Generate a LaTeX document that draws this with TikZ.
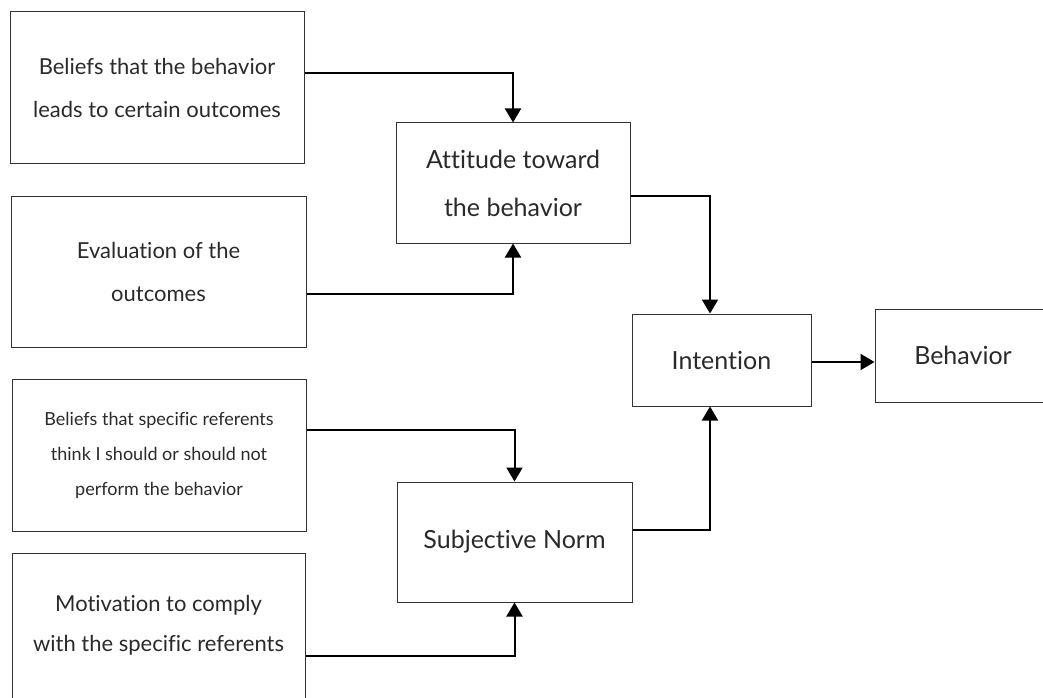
\documentclass[tikz,border=0pt]{standalone}
\usepackage{fontspec}
\setmainfont{Lato}[Ligatures=NoCommon]
\usetikzlibrary{arrows.meta}
\definecolor{boxgray}{HTML}{333333}
\definecolor{textgray}{HTML}{2A2A2A}
\begin{document}
\begin{tikzpicture}[x=1pt,y=-1pt,
  box/.style={draw=boxgray, line width=1pt, align=center, inner sep=0pt, text=textgray},
  big/.style={font=\fontsize{22}{43}\selectfont},
  small/.style={font=\fontsize{18}{35}\selectfont},
  core/.style={font=\fontsize{25}{48}\selectfont},
  link/.style={line width=2pt, -{Triangle[length=14pt,width=16pt]}},
]
\useasboundingbox (0,0) rectangle (1043,698);
\clip (0,0) rectangle (1043,698);

% belief and evaluation inputs
\node[box, big, minimum width=294pt, minimum height=151pt] (b1) at (157,87.5)
  {Beliefs that the behavior\\leads to certain outcomes};
\node[box, big, minimum width=295pt, minimum height=151pt] (b2) at (158.5,271.5)
  {Evaluation of the\\outcomes};
\node[box, small, minimum width=294pt, minimum height=152pt] (b3) at (159,455)
  {Beliefs that specific referents\\think I should or should not\\perform the behavior};
\node[box, font=\fontsize{22}{40}\selectfont, minimum width=293pt, minimum height=180pt] (b4) at (158.5,643)
  {Motivation to comply\\with the specific referents\\\mbox{}};

% constructs
\node[box, core, minimum width=234pt, minimum height=120pt] (att) at (513,183)
  {Attitude toward\\the behavior};
\node[box, core, minimum width=235pt, minimum height=120pt] (sn) at (514.5,542)
  {Subjective Norm};
\node[box, core, minimum width=179pt, minimum height=92pt] (int) at (721.5,360)
  {Intention};
\node[box, core, minimum width=176pt, minimum height=93pt] (beh) at (963,355.5)
  {Behavior};

% connectors
\draw[link] ([yshift=14.5pt]b1.east) -| (att.north);
\draw[link] ([yshift=-22.5pt]b2.east) -| (att.south);
\draw[link] ([yshift=25pt]b3.east) -| (sn.north);
\draw[link] ([yshift=-13pt]b4.east) -| (sn.south);
\draw[link] ([yshift=-13pt]att.east) -| ([xshift=-11.5pt]int.north);
\draw[link] ([yshift=12pt]sn.east) -| ([xshift=-11.5pt]int.south);
\coordinate (ib) at ([yshift=-2pt]int.east);
\draw[link] (ib) -- (ib -| beh.west);
\end{tikzpicture}
\end{document}
